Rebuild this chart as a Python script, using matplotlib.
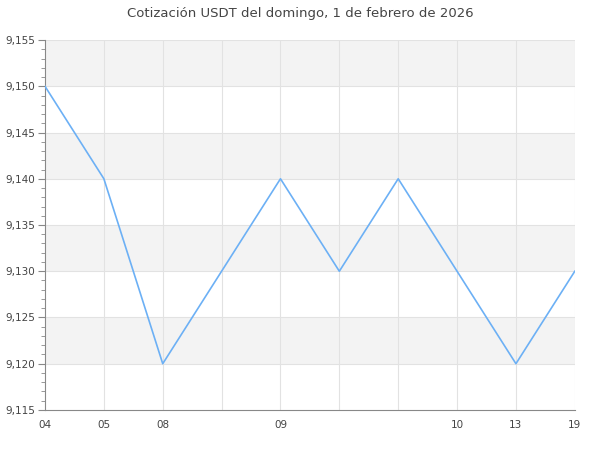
import numpy as np
from matplotlib import pyplot as plt
from matplotlib.ticker import MultipleLocator, FuncFormatter

title = "Cotización USDT del domingo, 1 de febrero de 2026"
# precio por punto (posicion de indice)
precio = [9.150, 9.140, 9.120, 9.130, 9.140, 9.130, 9.140, 9.130, 9.120, 9.130]
tick_pos = [0, 1, 2, 4, 7, 8, 9]
tick_lab = ["04", "05", "08", "09", "10", "13", "19"]

x = np.arange(len(precio))
txt = "#444444"
axc = "#888888"

fig = plt.figure(figsize=(6, 4.5), dpi=100)
ax = fig.add_axes([0.075, 0.089, 0.883, 0.822])

ymin, ymax = 9.115, 9.155
for i, y0 in enumerate(np.arange(ymin, ymax, 0.005)):
    if i % 2 == 1:
        ax.axhspan(y0, y0 + 0.005, color="#f3f3f3", zorder=0, lw=0)
for y0 in np.arange(ymin + 0.005, ymax + 0.0001, 0.005):
    ax.axhline(y0, color="#e2e2e2", lw=0.8, zorder=1)
for xi in x[1:]:
    ax.axvline(xi, color="#e2e2e2", lw=0.8, zorder=1)

ax.plot(x, precio, color="#6cb0f5", lw=1.2, zorder=3)

ax.set_xlim(0, len(precio) - 1)
ax.set_ylim(ymin, ymax)
ax.set_xticks(tick_pos)
ax.set_xticklabels(tick_lab)
ax.yaxis.set_major_locator(MultipleLocator(0.005))
ax.yaxis.set_minor_locator(MultipleLocator(0.001))
ax.yaxis.set_major_formatter(FuncFormatter(lambda v, p: ("%.3f" % v).replace(".", ",")))

for s in ["top", "right"]:
    ax.spines[s].set_visible(False)
for s in ["left", "bottom"]:
    ax.spines[s].set_color(axc)
ax.tick_params(axis="x", length=0, pad=7, labelsize=7.5, colors=txt)
ax.tick_params(axis="y", which="major", length=5, color=axc, labelsize=7.5, colors=txt, pad=2)
ax.tick_params(axis="y", which="minor", length=3, color=axc)
ax.tick_params(axis="y", which="both", color=axc)

fig.suptitle(title, y=0.985, fontsize=9.5, color=txt)
fig.savefig("out.png")
